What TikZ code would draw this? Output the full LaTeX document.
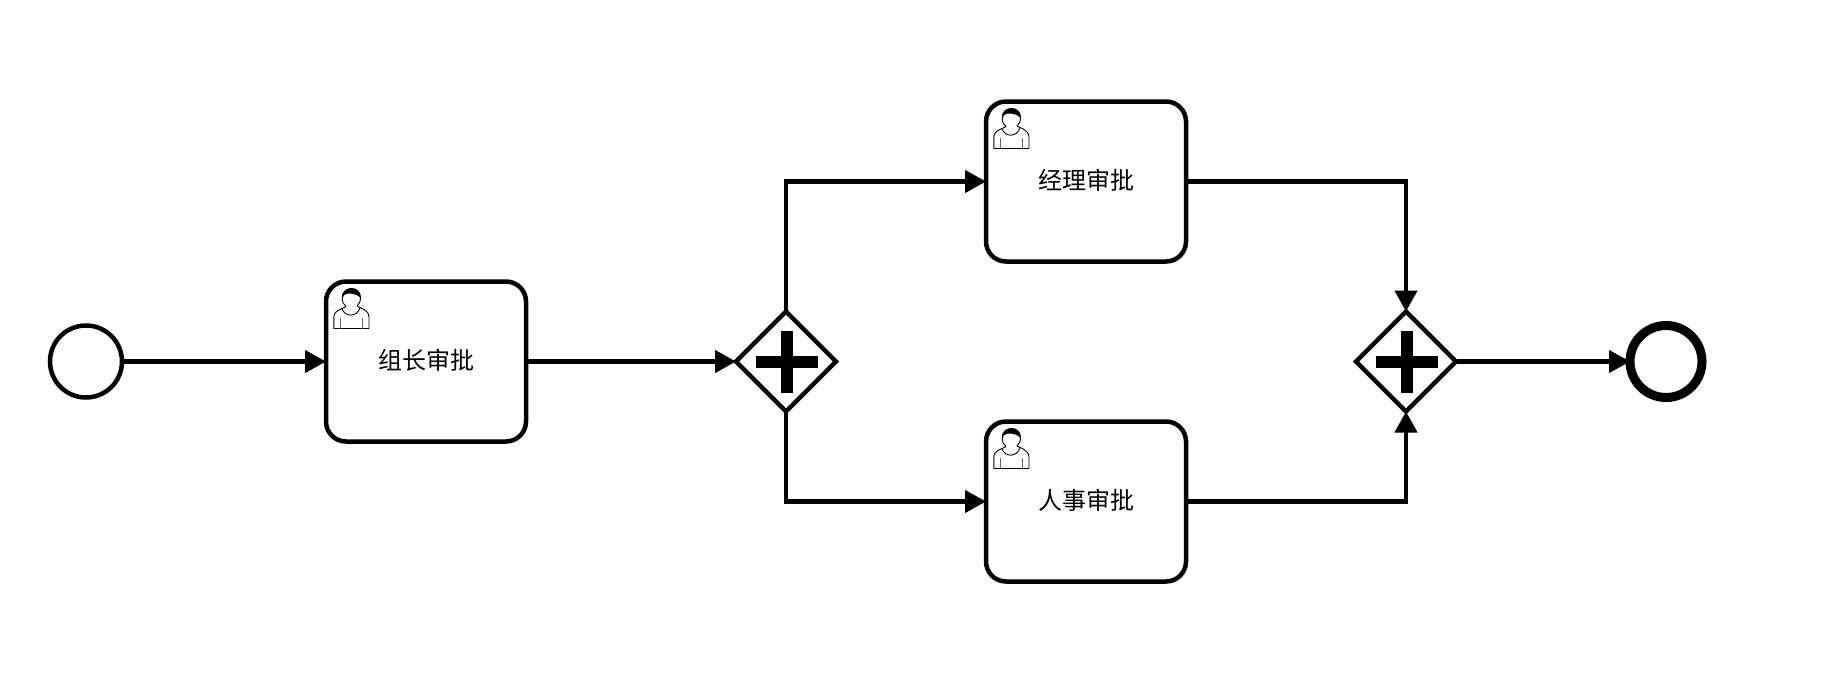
\documentclass[tikz,border=0pt]{standalone}
\usepackage{fontspec}
\newfontfamily\cjk{Noto Sans CJK SC}
\usetikzlibrary{shapes.geometric,arrows.meta,calc}
\tikzset{
  x=1pt,y=-1pt,
  flow/.style={line width=4.4pt,-{Triangle[length=21pt,width=22pt]}},
  taskbox/.style={draw,line width=4.5pt,rounded corners=20pt,minimum width=200pt,minimum height=160pt,inner sep=0pt,outer sep=0pt,fill=white},
  tasklabel/.style={font=\cjk\fontsize{24}{28}\selectfont,inner sep=0pt},
  startev/.style={circle,draw,line width=4.5pt,minimum size=72pt,inner sep=0pt,outer sep=0pt},
  endev/.style={circle,draw,line width=9pt,minimum size=72pt,inner sep=0pt,outer sep=0pt},
  gate/.style={diamond,aspect=1,draw,line width=4.5pt,minimum size=100pt,inner sep=0pt,outer sep=0pt,fill=white},
  plusbar/.style={fill=black},
  usr/.style={line width=0.9pt,line join=round,line cap=butt},
  usrarm/.style={line width=1.3pt,draw=black!60}
}
\newcommand{\plusmark}[1]{
  \fill[plusbar] ($(#1)+(-31,-6)$) rectangle ($(#1)+(31,6)$);
  \fill[plusbar] ($(#1)+(-6,-31)$) rectangle ($(#1)+(6,31)$);
}
\newcommand{\usericon}[1]{
  \begin{scope}[shift={(#1)}]
    \draw[usr,fill=white] (0.3,40.5) -- (0.3,29) .. controls (0.3,24.5) and (4,22.5) .. (8.5,20.5)
      .. controls (11,29.5) and (24,29.5) .. (26.5,19.5) .. controls (31,21.5) and (35.5,24) .. (35.5,29) -- (35.5,40.5) -- cycle;
    \draw[usr,fill=white] (8.5,20.5) -- (12.5,18.5) .. controls (10,16.5) and (8.7,14) .. (8.7,10)
      .. controls (8.7,4) and (13,0.5) .. (18,0.5) .. controls (23,0.5) and (27,4) .. (27,9.5)
      .. controls (27,13.5) and (25.5,16.5) .. (23.5,18) -- (26.5,19.5);
    \fill[black] (8.7,11) .. controls (7.5,4) and (13,0.2) .. (18,0.2) .. controls (23,0.2) and (27.5,4) .. (27,10)
      .. controls (24,6.5) and (20,5.5) .. (14,5.5) .. controls (11,5.5) and (9.5,8) .. (8.7,11) -- cycle;
    \draw[usrarm] (7,29.5) -- (7,40.5) (28.7,29.5) -- (28.7,40.5);
  \end{scope}
}
\begin{document}
\begin{tikzpicture}
\useasboundingbox (0,0) rectangle (1838,686);
\fill[white] (0,0) rectangle (1838,686);
\node[startev] (s) at (86,361.5) {};
\node[taskbox] (t1) at (426,361.5) {};
\node[taskbox] (t2) at (1086,181.5) {};
\node[taskbox] (t3) at (1086,501.5) {};
\node[tasklabel] (l1) at (426,360.5) {组长审批};
\node[tasklabel] (l2) at (1086,180.5) {经理审批};
\node[tasklabel] (l3) at (1086,500.5) {人事审批};
\node[gate] (g1) at (786,361.5) {};
\node[gate] (g2) at (1406,361.5) {};
\node[endev] (e) at (1666,361.5) {};
\plusmark{$(g1)+(0.5,0)$}
\plusmark{$(g2)+(0.5,0)$}
\usericon{333.5,288}
\usericon{993.5,108}
\usericon{993.5,428}
\draw[flow] (s) -- (t1);
\draw[flow] (t1) -- (g1);
\draw[flow] (g1.north) |- (t2.west);
\draw[flow] (g1.south) |- (t3.west);
\draw[flow] (t2.east) -| (g2.north);
\draw[flow] (t3.east) -| (g2.south);
\draw[flow] (g2) -- (e);
\end{tikzpicture}
\end{document}
